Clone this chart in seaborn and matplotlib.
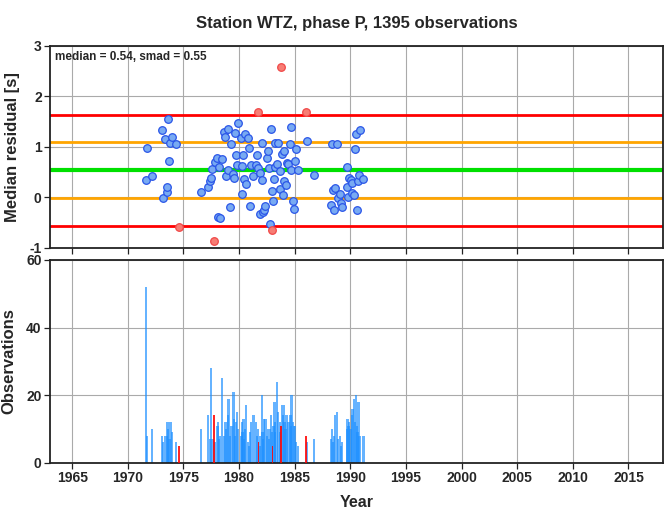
import numpy as np
import pandas as pd
import matplotlib
matplotlib.use("Agg")
import matplotlib.pyplot as plt
import seaborn as sns

# ---------------- data ----------------
title = "Station WTZ, phase P, 1395 observations"
median_val = 0.54
smad_val = 0.55

blue_years = [1971.64, 1971.73, 1972.15, 1973.05, 1973.17, 1973.32, 1973.50, 1973.56, 1973.62, 1973.74,
              1973.83, 1973.98, 1974.34, 1976.59, 1977.21, 1977.37, 1977.46, 1977.60, 1977.84, 1978.05,
              1978.11, 1978.20, 1978.29, 1978.45, 1978.63, 1978.77, 1978.83, 1978.98, 1979.04, 1979.16,
              1979.31, 1979.49, 1979.55, 1979.61, 1979.73, 1979.79, 1979.88, 1980.21, 1980.25, 1980.30,
              1980.39, 1980.45, 1980.54, 1980.63, 1980.78, 1980.90, 1981.00, 1981.08, 1981.29, 1981.50,
              1981.59, 1981.68, 1981.86, 1981.89, 1982.07, 1982.09, 1982.13, 1982.25, 1982.37, 1982.49,
              1982.58, 1982.70, 1982.79, 1982.85, 1982.94, 1983.08, 1983.17, 1983.21, 1983.24, 1983.41,
              1983.48, 1983.66, 1983.68, 1983.86, 1983.95, 1984.04, 1984.07, 1984.19, 1984.28, 1984.43,
              1984.61, 1984.67, 1984.70, 1984.85, 1984.94, 1985.03, 1985.09, 1985.30, 1986.11, 1986.71,
              1988.24, 1988.33, 1988.45, 1988.54, 1988.63, 1988.81, 1988.90, 1989.05, 1989.17, 1989.25,
              1989.68, 1989.73, 1989.82, 1989.88, 1990.03, 1990.15, 1990.19, 1990.34, 1990.40, 1990.49,
              1990.58, 1990.66, 1990.75, 1990.84, 1991.17]
blue_resid = [0.35, 0.98, 0.43, 1.33, -0.01, 1.16, 0.10, 0.20, 1.56, 0.72,
              1.08, 1.20, 1.05, 0.11, 0.20, 0.33, 0.39, 0.56, 0.71, 0.79,
              -0.39, 0.61, -0.41, 0.76, 1.30, 1.20, 0.43, 0.55, 1.36, -0.18,
              1.06, 0.47, 0.39, 1.28, 0.85, 0.65, 1.48, 1.18, 0.62, 0.06,
              0.85, 0.37, 1.26, 0.26, 1.17, 0.98, -0.17, 0.64, 0.43, 0.64,
              0.85, 0.59, 0.49, -0.33, 0.35, 1.08, -0.28, -0.24, -0.16, 0.79,
              0.92, 0.59, -0.52, 1.35, 0.12, -0.07, 0.37, 1.08, 0.61, 0.66,
              1.07, 0.53, 0.16, 0.87, 0.04, 0.92, 0.33, 0.25, 0.69, 0.66,
              1.06, 0.54, 1.39, -0.06, -0.23, 0.72, 0.97, 0.54, 1.11, 0.44,
              -0.15, 1.05, 0.15, -0.25, 0.19, 1.06, -0.02, 0.06, -0.10, -0.19,
              0.61, 0.20, 0.00, 0.39, 0.34, 0.29, 0.09, 0.04, 0.96, 1.26,
              -0.24, 0.33, 0.45, 1.33, 0.36]
blue_counts = [52, 8, 10, 8, 6, 8, 8, 12, 10, 7,
               12, 9, 6, 10, 14, 7, 28, 7, 6, 11,
               12, 7, 8, 25, 8, 12, 10, 14, 19, 8,
               11, 21, 13, 8, 12, 15, 10, 8, 12, 9,
               13, 7, 10, 17, 6, 5, 9, 12, 14, 12,
               8, 10, 5, 8, 20, 9, 7, 13, 13, 8,
               10, 7, 10, 14, 9, 11, 18, 12, 9, 24,
               15, 9, 12, 17, 14, 17, 12, 10, 14, 12,
               14, 11, 20, 12, 11, 11, 6, 5, 6, 7,
               7, 10, 6, 8, 14, 15, 7, 8, 5, 6,
               10, 13, 11, 12, 10, 14, 16, 19, 12, 20,
               11, 9, 18, 8, 8]

red_years = [1974.58, 1977.75, 1981.73, 1983.00, 1983.75, 1986.00]
red_resid = [-0.59, -0.87, 1.69, -0.65, 2.58, 1.69]
red_counts = [5, 14, 6, 5, 11, 8]

year_ticks = [1965, 1970, 1975, 1980, 1985, 1990, 1995, 2000, 2005, 2010, 2015]

blue_df = pd.DataFrame({"year": blue_years, "resid": blue_resid, "n": blue_counts})
red_df = pd.DataFrame({"year": red_years, "resid": red_resid, "n": red_counts})

# ---------------- style ----------------
sns.set_style("white")
plt.rcParams["font.family"] = ["Liberation Sans", "DejaVu Sans"]
plt.rcParams["font.weight"] = "bold"
plt.rcParams["axes.unicode_minus"] = False

fig = plt.figure(figsize=(6.69, 5.11), dpi=100)
ax1 = fig.add_axes([0.0747, 0.5147, 0.9163, 0.3953])
ax2 = fig.add_axes([0.0747, 0.0945, 0.9163, 0.3967])

grid_kw = dict(color="#aaaaaa", linewidth=0.8, zorder=0)
for ax in (ax1, ax2):
    ax.set_xlim(1963.0, 2018.1)
    ax.set_xticks(year_ticks)
    ax.grid(True, **grid_kw)
    ax.set_axisbelow(True)
    for s in ax.spines.values():
        s.set_color("#222222")
        s.set_linewidth(1.3)
    ax.tick_params(axis="both", direction="out", length=4, width=0.9, color="#222222",
                   labelsize=10, bottom=True, left=True, pad=2)

# ---------- top panel ----------
ax1.set_ylim(-1, 3)
ax1.set_yticks([-1, 0, 1, 2, 3])
ax1.set_xticklabels([])
ax1.axhline(median_val + 2 * smad_val, color="#ff0000", lw=2.0, zorder=2)
ax1.axhline(median_val - 2 * smad_val, color="#ff0000", lw=2.0, zorder=2)
ax1.axhline(median_val + smad_val, color="#ffa500", lw=2.0, zorder=2)
ax1.axhline(median_val - smad_val, color="#ffa500", lw=2.0, zorder=2)
ax1.axhline(median_val, color="#00e000", lw=3.0, zorder=2)

sns.scatterplot(data=blue_df, x="year", y="resid", ax=ax1, s=30, color="#78aaf2",
                edgecolor="#2a55e8", linewidth=0.9, zorder=3)
sns.scatterplot(data=red_df, x="year", y="resid", ax=ax1, s=30, color="#f77d74",
                edgecolor="#f04848", linewidth=0.9, zorder=3)
ax1.set_xlabel("")
ax1.set_ylabel("Median residual [s]", fontsize=12, fontweight="bold", labelpad=7)
ax1.text(0.008, 0.975, f"median = {median_val:.2f}, smad = {smad_val:.2f}",
         transform=ax1.transAxes, ha="left", va="top", fontsize=8.5, fontweight="bold")
ax1.set_title(title, fontsize=12, fontweight="bold", pad=13)

# ---------- bottom panel ----------
ax2.set_ylim(0, 60)
ax2.set_yticks([0, 20, 40, 60])
ax2.bar(blue_df["year"], blue_df["n"], width=0.22, color="#1e90ff", alpha=0.68,
        linewidth=0, zorder=2)
ax2.bar(red_df["year"], red_df["n"], width=0.13, color="#ff0000", alpha=0.85,
        linewidth=0, zorder=3)
ax2.set_xlabel("Year", fontsize=11.5, fontweight="bold", labelpad=7)
ax2.set_ylabel("Observations", fontsize=12, fontweight="bold", labelpad=7)

fig.savefig("out.png", dpi=100)
